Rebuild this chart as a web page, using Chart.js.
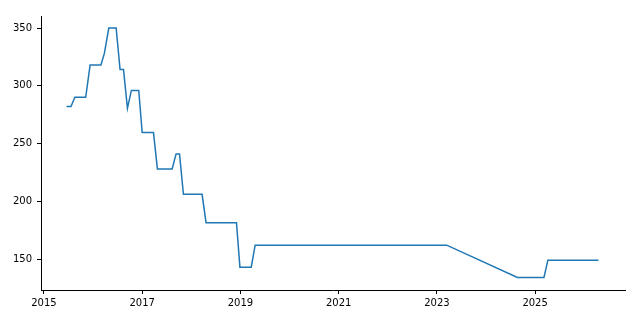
<!DOCTYPE html>
<html>
<head>
<meta charset="utf-8">
<script src="https://cdn.jsdelivr.net/npm/chart.js@4/dist/chart.umd.min.js"></script>
<style>
  html, body { margin: 0; padding: 0; background: #fff; }
  #wrap { width: 640px; height: 320px; }
</style>
</head>
<body>
<div id="wrap"><canvas id="c" width="640" height="320"></canvas></div>
<script>
const years = [2015.46, 2015.55, 2015.63, 2015.85, 2015.94, 2016.16, 2016.23, 2016.32, 2016.47, 2016.55, 2016.62, 2016.70, 2016.78, 2016.93, 2017.00, 2017.23, 2017.31, 2017.61, 2017.69, 2017.76, 2017.84, 2018.22, 2018.30, 2018.92, 2018.99, 2019.22, 2019.30, 2023.20, 2024.64, 2025.18, 2025.26, 2026.29];
const values = [282, 282, 290, 290, 318, 318, 328, 350, 350, 314, 314, 280.5, 296, 296, 259.5, 259.5, 228, 228, 241, 241, 206, 206, 181.5, 181.5, 143, 143, 162, 162, 134, 134, 149, 149];
const xTicks = [2015, 2017, 2019, 2021, 2023, 2025];
const yTicks = [150, 200, 250, 300, 350];

const points = years.map((x, i) => ({ x: x, y: values[i] }));
const font = { family: 'DejaVu Sans', size: 10 };

new Chart(document.getElementById('c'), {
  type: 'line',
  data: {
    datasets: [{
      data: points,
      borderColor: '#1f77b4',
      borderWidth: 1.5,
      pointRadius: 0,
      tension: 0,
      fill: false
    }]
  },
  options: {
    responsive: false,
    animation: false,
    layout: { padding: { left: 0, right: 15, top: 16, bottom: 0 } },
    plugins: { legend: { display: false }, tooltip: { enabled: false } },
    scales: {
      x: {
        type: 'linear',
        min: 2014.94,
        max: 2026.83,
        afterBuildTicks: s => { s.ticks = xTicks.map(v => ({ value: v })); },
        afterFit: s => { s.height = 30; },
        grid: { drawOnChartArea: false, drawTicks: true, tickLength: 4, color: '#000' },
        border: { display: true, color: '#000', width: 1 },
        ticks: { color: '#000', font: font, padding: 3, maxRotation: 0, callback: v => String(v) }
      },
      y: {
        type: 'linear',
        min: 123.2,
        max: 360.4,
        afterBuildTicks: s => { s.ticks = yTicks.map(v => ({ value: v })); },
        afterFit: s => { s.width = 41; },
        grid: { drawOnChartArea: false, drawTicks: true, tickLength: 4, color: '#000' },
        border: { display: true, color: '#000', width: 1 },
        ticks: { color: '#000', font: font, padding: 5, callback: v => String(v) }
      }
    }
  }
});
</script>
</body>
</html>
